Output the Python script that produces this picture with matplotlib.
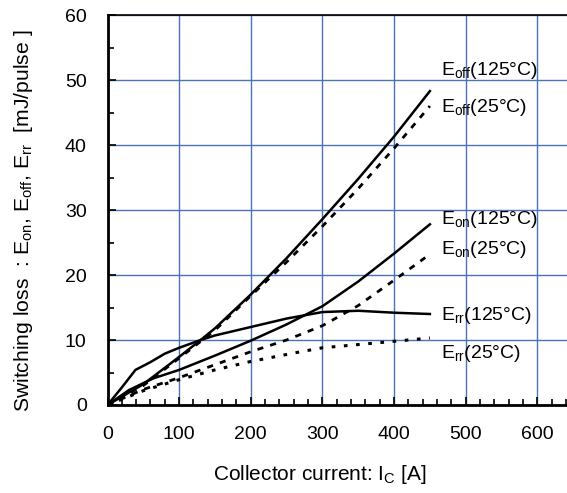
import matplotlib
matplotlib.use('Agg')
import matplotlib.pyplot as plt

plt.rcParams['font.family'] = ['Liberation Sans', 'DejaVu Sans']
plt.rcParams['mathtext.fontset'] = 'custom'
plt.rcParams['mathtext.rm'] = 'Liberation Sans'
plt.rcParams['mathtext.it'] = 'Liberation Sans'

# data (Ic in A, loss in mJ/pulse)
eoff125_x = [0, 50, 100, 130, 150, 200, 250, 300, 350, 400, 450]
eoff125_y = [0, 3.2, 7.4, 10.0, 11.8, 17.0, 22.6, 28.6, 34.8, 41.3, 48.3]
eoff25_x = [0, 50, 100, 150, 200, 250, 300, 350, 400, 450]
eoff25_y = [0, 3.0, 7.2, 11.5, 16.8, 22.0, 27.5, 33.3, 39.5, 46.0]
eon125_x = [0, 30, 64, 100, 150, 200, 250, 300, 350, 400, 450]
eon125_y = [0, 2.3, 4.1, 5.4, 7.6, 9.9, 12.4, 15.2, 19.0, 23.3, 27.8]
eon25_x = [0, 50, 100, 150, 200, 250, 300, 350, 400, 450]
eon25_y = [0, 2.4, 4.2, 6.2, 8.2, 10.0, 12.2, 15.3, 19.2, 23.2]
err125_x = [0, 20, 39, 60, 80, 100, 130, 150, 200, 250, 300, 350, 400, 450]
err125_y = [0, 2.7, 5.4, 6.6, 7.9, 8.8, 10.0, 10.7, 12.0, 13.3, 14.3, 14.5, 14.2, 14.0]
err25_x = [0, 50, 100, 150, 200, 270, 300, 350, 400, 450]
err25_y = [0, 2.2, 3.9, 5.4, 6.7, 8.2, 8.8, 9.3, 9.8, 10.3]

labels = [r'E$_{\mathregular{off}}$(125°C)', r'E$_{\mathregular{off}}$(25°C)',
          r'E$_{\mathregular{on}}$(125°C)', r'E$_{\mathregular{on}}$(25°C)',
          r'E$_{\mathregular{rr}}$(125°C)', r'E$_{\mathregular{rr}}$(25°C)']
label_y = [51.5, 45.7, 28.5, 24.0, 13.8, 8.0]

fig = plt.figure(figsize=(5.67, 4.93), dpi=100)
ax = fig.add_axes([0.1896, 0.1785, 0.815, 0.791])

dash = (0, (2.2, 2.6))
ax.plot(eoff125_x, eoff125_y, color='black', lw=1.8)
ax.plot(eoff25_x, eoff25_y, color='black', lw=2.0, ls=dash)
ax.plot(eon125_x, eon125_y, color='black', lw=1.8)
ax.plot(eon25_x, eon25_y, color='black', lw=2.0, ls=dash)
ax.plot(err125_x, err125_y, color='black', lw=1.8)
ax.plot(err25_x, err25_y, color='black', lw=2.2, ls=(0, (1.2, 2.8)))

for lab, ly in zip(labels, label_y):
    ax.text(466, ly, lab, fontsize=14, va='center', ha='left')

ax.set_xlim(0, 645)
ax.set_ylim(0, 60)
ax.set_xticks(range(0, 601, 100))
ax.set_xticks(range(0, 641, 20), minor=True)
ax.set_yticks(range(0, 61, 10))
ax.set_yticks(range(0, 61, 5), minor=True)
ax.grid(True, which='major', color='#4a72b8', lw=1.0)
ax.set_axisbelow(True)
ax.tick_params(which='both', direction='in', labelsize=14, top=False, right=False)
ax.tick_params(which='major', length=6, width=1.2, pad=15)
ax.tick_params(which='minor', length=4, width=1.2)

ax.spines['right'].set_visible(False)
ax.spines['left'].set_linewidth(2.0)
ax.spines['bottom'].set_linewidth(2.0)
ax.spines['top'].set_linewidth(1.2)

ax.set_xlabel(r'Collector current: I$_{\mathregular{C}}$ [A]', fontsize=15)
ax.set_ylabel(r'Switching loss  : E$_{\mathregular{on}}$, E$_{\mathregular{off}}$, E$_{\mathregular{rr}}$  [mJ/pulse ]',
              fontsize=15.2)
ax.xaxis.set_label_coords(0.46, -0.15)
ax.yaxis.set_label_coords(-0.157, 0.472)

fig.savefig('out.png', dpi=100)
